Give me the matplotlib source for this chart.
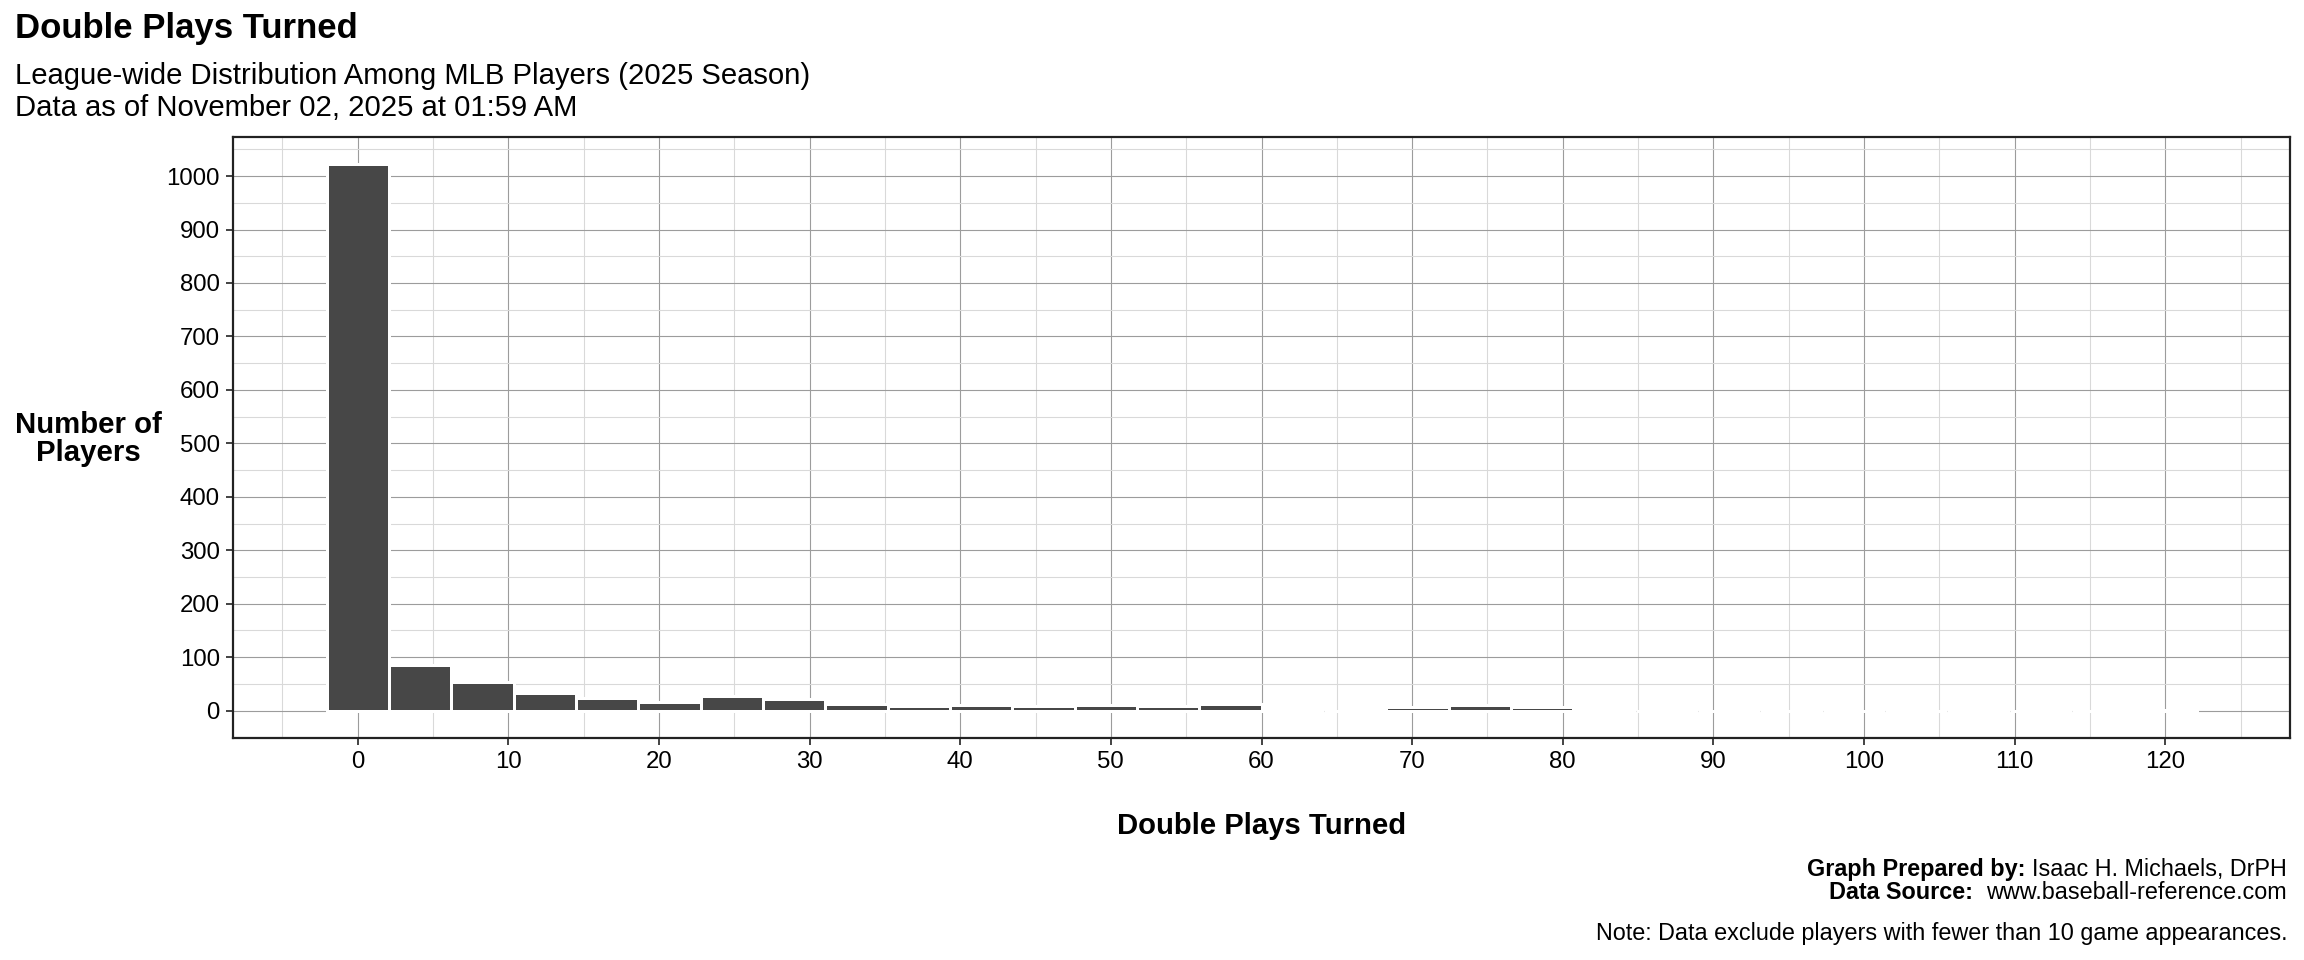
import matplotlib
matplotlib.use('Agg')
import matplotlib.pyplot as plt
import numpy as np
from matplotlib.ticker import MultipleLocator

plt.rcParams['font.family'] = ['Liberation Sans', 'DejaVu Sans']

# data: 30 equal-width bins over the observed range of double plays turned
dp_min, dp_max = 0, 120
n_bins = 30
bin_counts = [1022, 86, 54, 34, 24, 17, 28, 21, 13, 8,
              11, 8, 11, 8, 12, 0, 0, 6, 10, 7,
              0, 0, 0, 0, 0, 0, 0, 0, 0, 1]

title = 'Double Plays Turned'
subtitle = ['League-wide Distribution Among MLB Players (2025 Season)',
            'Data as of November 02, 2025 at 01:59 AM']
x_title = 'Double Plays Turned'
y_title = 'Number of\nPlayers'
caption = [('Graph Prepared by:', 'Isaac H. Michaels, DrPH', 1),
           ('Data Source:', 'www.baseball-reference.com', 2)]
note = 'Note: Data exclude players with fewer than 10 game appearances.'

W, H = 2304, 960
fig = plt.figure(figsize=(W / 144, H / 144), dpi=144)
ax = fig.add_axes([233 / W, 1 - 738 / H, (2290 - 233) / W, (738 - 137) / H])

bw = (dp_max - dp_min) / (n_bins - 1)
centers = dp_min + bw * np.arange(n_bins)
ax.bar(centers, bin_counts, width=bw, color='#474747', edgecolor='white',
       linewidth=1.5, zorder=2)

lo, hi = centers[0] - bw / 2, centers[-1] + bw / 2
ax.set_xlim(lo - 0.05 * (hi - lo), hi + 0.05 * (hi - lo))
ymax = max(bin_counts)
ax.set_ylim(-0.05 * ymax, 1.05 * ymax)

ax.xaxis.set_major_locator(MultipleLocator(10))
ax.xaxis.set_minor_locator(MultipleLocator(5))
ax.yaxis.set_major_locator(MultipleLocator(100))
ax.yaxis.set_minor_locator(MultipleLocator(50))
ax.grid(which='major', color='#9c9c9c', linewidth=0.55)
ax.grid(which='minor', color='#d9d9d9', linewidth=0.55)
ax.set_axisbelow(True)

for s in ax.spines.values():
    s.set_color('#222222')
    s.set_linewidth(1.1)
ax.tick_params(which='major', length=3.6, width=0.9, color='#333333',
               labelsize=12, labelcolor='black', pad=3)
ax.tick_params(which='minor', length=0)

# titles
fig.text(15 / W, 1 - 38 / H, title, fontsize=17.4, fontweight='bold',
         ha='left', va='baseline')
fig.text(15 / W, 1 - 84 / H, subtitle[0], fontsize=14.6, ha='left', va='baseline')
fig.text(15 / W, 1 - 116 / H, subtitle[1], fontsize=14.6, ha='left', va='baseline')

fig.text(88 / W, 1 - 439 / H, y_title, fontsize=14.7, fontweight='bold',
         ha='center', va='center', multialignment='center', linespacing=1.0)
fig.text((233 + 2290) / 2 / W, 1 - 826 / H, x_title, fontsize=14.6,
         fontweight='bold', ha='center', va='center')

# caption with bold lead-ins, right aligned
fig.canvas.draw()
rend = fig.canvas.get_renderer()
cap_y = [876, 899]
for (bold, regular, nsp), yy in zip(caption, cap_y):
    t = fig.text(2287 / W, 1 - yy / H, regular, fontsize=11.7,
                 ha='right', va='baseline')
    bb = t.get_window_extent(renderer=rend)
    gap = 6.5 * nsp
    fig.text((bb.x0 - gap) / W, 1 - yy / H, bold, fontsize=11.7,
             fontweight='bold', ha='right', va='baseline')
fig.text(2287 / W, 1 - 940 / H, note, fontsize=11.7, ha='right', va='baseline')

fig.savefig('out.png', dpi=144)
